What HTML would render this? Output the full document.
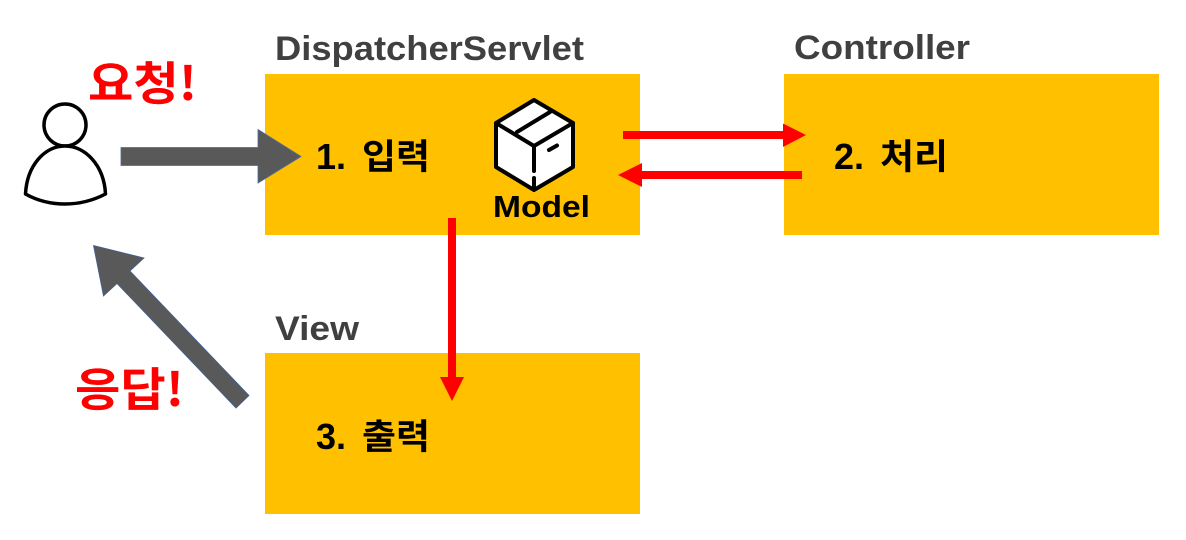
<!DOCTYPE html>
<html><head><meta charset="utf-8"><style>
html,body{margin:0;padding:0;background:#fff;width:1186px;height:540px;overflow:hidden}
svg{display:block}
text{font-family:"Liberation Sans","Noto Sans CJK KR",sans-serif;font-weight:700}
.k{font-family:"Noto Sans CJK KR","Liberation Sans",sans-serif;font-weight:700}
</style></head><body>
<svg width="1186" height="540" viewBox="0 0 1186 540" xmlns="http://www.w3.org/2000/svg">
<rect x="265" y="74" width="375" height="161" fill="#ffc000"/>
<rect x="784" y="74" width="375" height="161" fill="#ffc000"/>
<rect x="265" y="353" width="375" height="161" fill="#ffc000"/>

<text x="275" y="60" font-size="34" fill="#404040" textLength="309" lengthAdjust="spacingAndGlyphs">DispatcherServlet</text>
<text x="794" y="59" font-size="34" fill="#404040" textLength="176" lengthAdjust="spacingAndGlyphs">Controller</text>
<text x="275" y="340" font-size="34" fill="#404040" textLength="84" lengthAdjust="spacingAndGlyphs">View</text>

<text x="316" y="169" font-size="36" fill="#000">1.</text>
<text class="k" x="362" y="169" font-size="35" fill="#000" textLength="68" lengthAdjust="spacingAndGlyphs">입력</text>
<text x="834" y="169" font-size="36" fill="#000">2.</text>
<text class="k" x="880" y="169" font-size="35" fill="#000" textLength="68" lengthAdjust="spacingAndGlyphs">처리</text>
<text x="316" y="449" font-size="36" fill="#000">3.</text>
<text class="k" x="362" y="449" font-size="35" fill="#000" textLength="68" lengthAdjust="spacingAndGlyphs">출력</text>

<text x="493" y="217" font-size="31" fill="#000" textLength="97" lengthAdjust="spacingAndGlyphs">Model</text>

<text class="k" x="88" y="100" font-size="46" fill="#ff0000" textLength="109" lengthAdjust="spacingAndGlyphs">요청!</text>
<text class="k" x="75" y="406" font-size="46" fill="#ff0000" textLength="109" lengthAdjust="spacingAndGlyphs">응답!</text>

<!-- person -->
<circle cx="65" cy="125" r="21" fill="#fff" stroke="#000" stroke-width="3.500"/>
<path d="M25.500 194 C27 165 45 146 65 146 C85 146 104 165 105.500 194 C92 201 78 204 65 204 C52 204 38 201 25.500 194 Z" fill="#fff" stroke="#000" stroke-width="3.500" stroke-linejoin="round"/>

<!-- gray arrows -->
<path d="M121 147.500 H258 V129.500 L301 156.500 L258 183 V165.500 H121 Z" fill="#595959" stroke="#4a6a9c" stroke-width="0.800"/>
<path d="M93.500 245.500 L144 258 L130 271 L249 395.500 L236 408 L117 283.500 L103.500 296 Z" fill="#595959" stroke="#3f5f96" stroke-width="0.800"/>

<!-- red arrows -->
<path d="M623 131 H783 V123.500 L806 135 L783 147 V139 H623 Z" fill="#ff0000"/>
<path d="M802 171 H642 V163 L618 175 L642 187 V179 H802 Z" fill="#ff0000"/>
<path d="M448 218 H456 V377 H464 L452 401 L440 377 H448 Z" fill="#ff0000"/>

<!-- box icon -->
<g stroke="#000" stroke-width="4" stroke-linejoin="round" stroke-linecap="round" fill="none">
<path d="M534 100 L573 123 V167 L534 190 L496 167 V123 Z" fill="#fff"/>
<path d="M496 123 L534 146 L573 123"/>
<path d="M534 146 V171"/>
<path d="M534 178 V189"/>
<path d="M517 132 L550 112"/>
<path d="M549 150 L557 145.500"/>
</g>
</svg>
</body></html>
